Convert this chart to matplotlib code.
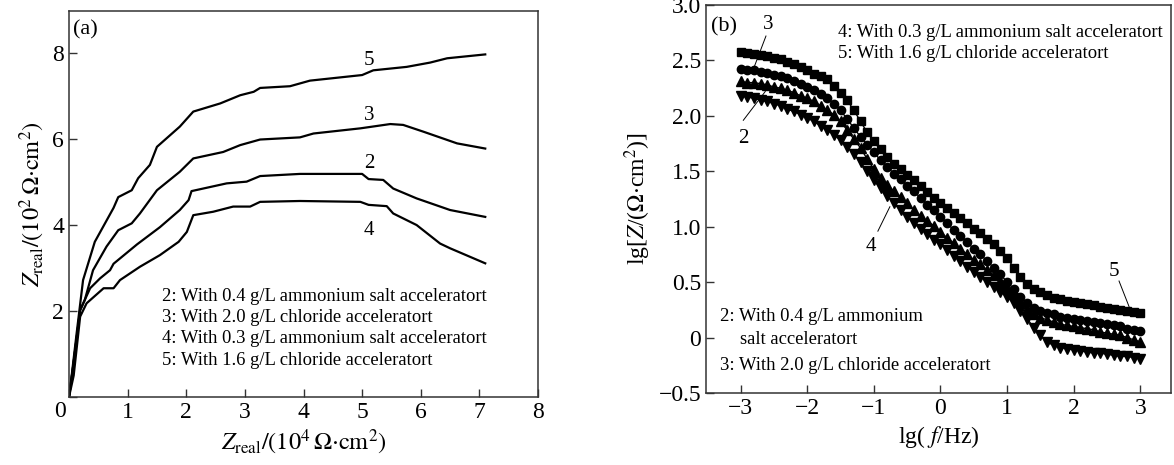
import matplotlib
matplotlib.use("Agg")
import matplotlib.pyplot as plt
from matplotlib.ticker import FuncFormatter

plt.rcParams['font.family'] = ['Liberation Serif', 'DejaVu Serif']
plt.rcParams['mathtext.fontset'] = 'stix'

# ---------------- Panel (a) data ----------------
a_x5 = [0, 0.05, 0.13, 0.24, 0.44, 0.76, 0.84, 1.07, 1.18, 1.38, 1.5, 1.89, 2.12, 2.58, 2.92, 3.15, 3.26, 3.77, 4.11, 5.0, 5.19, 5.76, 6.16, 6.45, 7.1]
a_y5 = [0, 0.55, 1.48, 2.72, 3.61, 4.4, 4.65, 4.81, 5.09, 5.4, 5.82, 6.29, 6.64, 6.83, 7.02, 7.1, 7.19, 7.23, 7.36, 7.49, 7.6, 7.68, 7.78, 7.88, 7.97]

a_x3 = [0, 0.07, 0.19, 0.27, 0.41, 0.64, 0.84, 1.07, 1.21, 1.5, 1.89, 2.12, 2.63, 2.92, 3.26, 3.94, 4.17, 4.97, 5.48, 5.7, 6.05, 6.62, 7.1]
a_y3 = [0, 0.7, 2.02, 2.26, 2.95, 3.5, 3.88, 4.04, 4.27, 4.81, 5.24, 5.55, 5.7, 5.86, 5.99, 6.04, 6.13, 6.25, 6.35, 6.33, 6.17, 5.9, 5.78]

a_x2 = [0, 0.06, 0.19, 0.36, 0.53, 0.7, 0.76, 1.16, 1.55, 1.89, 2.04, 2.09, 2.69, 3.03, 3.26, 3.94, 5.0, 5.11, 5.36, 5.53, 5.93, 6.5, 7.1]
a_y2 = [0, 0.6, 2.02, 2.53, 2.76, 2.95, 3.1, 3.55, 3.95, 4.35, 4.58, 4.79, 4.97, 5.01, 5.14, 5.19, 5.19, 5.07, 5.05, 4.85, 4.62, 4.35, 4.19]

a_x4 = [0, 0.08, 0.19, 0.3, 0.59, 0.76, 0.87, 1.21, 1.55, 1.87, 2.01, 2.12, 2.46, 2.8, 3.09, 3.26, 3.94, 4.97, 5.11, 5.42, 5.53, 5.93, 6.33, 6.5, 7.1]
a_y4 = [0, 0.5, 1.87, 2.18, 2.53, 2.53, 2.72, 3.03, 3.3, 3.61, 3.84, 4.23, 4.31, 4.43, 4.43, 4.54, 4.56, 4.54, 4.47, 4.44, 4.27, 4.0, 3.57, 3.46, 3.11]

a_legend = ["2: With 0.4 g/L ammonium salt acceleratort",
            "3: With 2.0 g/L chloride acceleratort",
            "4: With 0.3 g/L ammonium salt acceleratort",
            "5: With 1.6 g/L chloride acceleratort"]

# ---------------- Panel (b) data ----------------
b_lgf = [-3.0, -2.9, -2.8, -2.7, -2.6, -2.5, -2.4, -2.3, -2.2, -2.1, -2.0, -1.9, -1.8, -1.7, -1.6,
         -1.5, -1.4, -1.3, -1.2, -1.1, -1.0, -0.9, -0.8, -0.7, -0.6, -0.5, -0.4, -0.3, -0.2, -0.1,
         0.0, 0.1, 0.2, 0.3, 0.4, 0.5, 0.6, 0.7, 0.8, 0.9, 1.0, 1.1, 1.2, 1.3, 1.4, 1.5, 1.6, 1.7,
         1.8, 1.9, 2.0, 2.1, 2.2, 2.3, 2.4, 2.5, 2.6, 2.7, 2.8, 2.9, 3.0]
b_z5 = [2.58, 2.57, 2.56, 2.55, 2.54, 2.52, 2.51, 2.49, 2.47, 2.44, 2.41, 2.38, 2.36, 2.33, 2.27,
        2.21, 2.14, 2.05, 1.95, 1.85, 1.77, 1.70, 1.63, 1.57, 1.52, 1.47, 1.42, 1.37, 1.31, 1.26,
        1.21, 1.17, 1.12, 1.08, 1.03, 0.98, 0.94, 0.89, 0.84, 0.78, 0.72, 0.63, 0.55, 0.48, 0.44,
        0.41, 0.38, 0.36, 0.35, 0.33, 0.32, 0.31, 0.30, 0.29, 0.28, 0.27, 0.26, 0.25, 0.24, 0.23, 0.22]
b_z3 = [2.42, 2.41, 2.41, 2.40, 2.39, 2.37, 2.36, 2.34, 2.31, 2.29, 2.26, 2.23, 2.20, 2.16, 2.11,
        2.05, 1.97, 1.89, 1.81, 1.74, 1.67, 1.60, 1.54, 1.48, 1.43, 1.37, 1.32, 1.26, 1.20, 1.15,
        1.09, 1.03, 0.97, 0.92, 0.86, 0.80, 0.75, 0.69, 0.63, 0.57, 0.50, 0.44, 0.37, 0.31, 0.27,
        0.24, 0.22, 0.21, 0.19, 0.18, 0.17, 0.16, 0.15, 0.14, 0.13, 0.12, 0.11, 0.10, 0.08, 0.07, 0.06]
b_z4 = [2.31, 2.30, 2.30, 2.29, 2.28, 2.26, 2.25, 2.23, 2.21, 2.18, 2.16, 2.13, 2.09, 2.05, 2.01,
        1.95, 1.87, 1.79, 1.71, 1.61, 1.52, 1.44, 1.38, 1.32, 1.27, 1.21, 1.15, 1.10, 1.05, 1.01,
        0.95, 0.90, 0.85, 0.80, 0.75, 0.70, 0.66, 0.61, 0.56, 0.51, 0.46, 0.41, 0.33, 0.26, 0.21,
        0.18, 0.16, 0.14, 0.12, 0.11, 0.10, 0.09, 0.08, 0.07, 0.05, 0.04, 0.03, 0.02, 0.00, -0.02, -0.04]
b_z2 = [2.18, 2.17, 2.16, 2.14, 2.13, 2.11, 2.09, 2.06, 2.04, 2.01, 1.98, 1.95, 1.91, 1.87, 1.83,
        1.78, 1.72, 1.66, 1.58, 1.50, 1.42, 1.35, 1.28, 1.21, 1.15, 1.09, 1.03, 0.98, 0.93, 0.88,
        0.84, 0.79, 0.74, 0.69, 0.64, 0.59, 0.55, 0.50, 0.46, 0.41, 0.37, 0.31, 0.24, 0.17, 0.09,
        0.02, -0.04, -0.07, -0.09, -0.10, -0.11, -0.12, -0.13, -0.14, -0.14, -0.15, -0.16, -0.17, -0.17, -0.18, -0.19]

b_legend_top = ["4: With 0.3 g/L ammonium salt acceleratort",
                "5: With 1.6 g/L chloride acceleratort"]
b_legend_bot = ["2: With 0.4 g/L ammonium", "salt acceleratort",
                "3: With 2.0 g/L chloride acceleratort"]

fig = plt.figure(figsize=(11.74, 4.65), dpi=100)
TICK_FS = 17
LAB_FS = 17
TXT_FS = 13.4
PANEL_FS = 16
CURVE_FS = 15

def style(ax):
    for s in ['top', 'right', 'left', 'bottom']:
        ax.spines[s].set_linewidth(1.1)
        ax.spines[s].set_color('#333333')
    ax.tick_params(direction='in', length=6, width=1.0, labelsize=TICK_FS,
                   top=False, right=False, color='#333333', labelcolor='black')

# ---------------- Panel (a) ----------------
ax1 = fig.add_axes([69/1174, 1 - 397/465, (538 - 69)/1174, (397 - 11)/465])
for xs, ys in [(a_x5, a_y5), (a_x3, a_y3), (a_x2, a_y2), (a_x4, a_y4)]:
    ax1.plot(xs, ys, color='black', lw=1.6)
ax1.set_xlim(0, 8)
ax1.set_ylim(0, 8.98)
ax1.set_xticks(range(0, 9))
ax1.set_yticks([0, 2, 4, 6, 8])
ax1.xaxis.set_major_formatter(FuncFormatter(lambda v, p: '' if v == 0 else f'{v:g}'))
ax1.yaxis.set_major_formatter(FuncFormatter(lambda v, p: '' if v == 0 else f'{v:g}'))
style(ax1)
ax1.text(-0.15, -0.1, '0', fontsize=TICK_FS, ha='center', va='top')
ax1.set_xlabel(r'$Z_{\mathrm{real}}/(10^4\,\Omega{\cdot}\mathrm{cm}^2)$', fontsize=LAB_FS + 0.5, labelpad=4)
ax1.set_ylabel(r'$Z_{\mathrm{real}}/(10^2\,\Omega{\cdot}\mathrm{cm}^2)$', fontsize=LAB_FS + 0.5, labelpad=4)
ax1.text(0.07, 8.55, '(a)', fontsize=PANEL_FS, va='center', ha='left')
for lab, (xx, yy) in zip(['5', '3', '2', '4'], [(5.12, 7.84), (5.12, 6.56), (5.12, 5.43), (5.12, 3.88)]):
    ax1.text(xx, yy, lab, fontsize=CURVE_FS, ha='center', va='center')
for i, t in enumerate(a_legend):
    ax1.text(1.59, 2.33 - i * 0.49, t, fontsize=TXT_FS, ha='left', va='center')

# ---------------- Panel (b) ----------------
ax2 = fig.add_axes([706/1174, 1 - 393/465, (1171 - 706)/1174, (393 - 5)/465])
ms = 6.5
ax2.plot(b_lgf, b_z5, color='black', lw=1.0, marker='s', ms=ms - 0.5, mfc='black', mec='black')
ax2.plot(b_lgf, b_z3, color='black', lw=1.0, marker='o', ms=ms - 0.5, mfc='black', mec='black')
ax2.plot(b_lgf, b_z4, color='black', lw=1.0, marker='^', ms=ms, mfc='black', mec='black')
ax2.plot(b_lgf, b_z2, color='black', lw=1.0, marker='v', ms=ms, mfc='black', mec='black')
ax2.set_xlim(-3.52, 3.46)
ax2.set_ylim(-0.5, 3.0)
ax2.set_xticks([-3, -2, -1, 0, 1, 2, 3])
ax2.set_yticks([-0.5, 0, 0.5, 1.0, 1.5, 2.0, 2.5, 3.0])
ax2.xaxis.set_major_formatter(FuncFormatter(lambda v, p: f'{int(round(v))}'.replace('-', '\u2212')))
ax2.yaxis.set_major_formatter(FuncFormatter(lambda v, p: '0' if abs(v) < 1e-9 else f'{v:.1f}'.replace('-', '\u2212')))
style(ax2)
ax2.set_xlabel(r'lg( $f$/Hz)', fontsize=LAB_FS, labelpad=4)
ax2.set_ylabel(r'lg[$Z$/($\Omega{\cdot}$cm$^2$)]', fontsize=LAB_FS, labelpad=4)
ax2.text(-3.44, 2.80, '(b)', fontsize=PANEL_FS, va='center', ha='left')
# curve labels with leader lines
ax2.text(-2.59, 2.82, '3', fontsize=CURVE_FS, ha='center', va='center')
ax2.plot([-2.62, -2.81], [2.72, 2.42], color='black', lw=0.7)
ax2.text(-2.96, 1.80, '2', fontsize=CURVE_FS, ha='center', va='center')
ax2.plot([-2.96, -2.63], [1.96, 2.22], color='black', lw=0.7)
ax2.text(-1.04, 0.82, '4', fontsize=CURVE_FS, ha='center', va='center')
ax2.plot([-0.94, -0.76], [0.96, 1.18], color='black', lw=0.7)
ax2.text(2.6, 0.6, '5', fontsize=CURVE_FS, ha='center', va='center')
ax2.plot([2.68, 2.83], [0.51, 0.28], color='black', lw=0.7)
for i, t in enumerate(b_legend_top):
    ax2.text(-1.54, 2.75 - i * 0.19, t, fontsize=TXT_FS, ha='left', va='center')
ax2.text(-3.31, 0.19, b_legend_bot[0], fontsize=TXT_FS, ha='left', va='center')
ax2.text(-3.01, -0.02, b_legend_bot[1], fontsize=TXT_FS, ha='left', va='center')
ax2.text(-3.31, -0.25, b_legend_bot[2], fontsize=TXT_FS, ha='left', va='center')

fig.savefig('out.png', dpi=100)
